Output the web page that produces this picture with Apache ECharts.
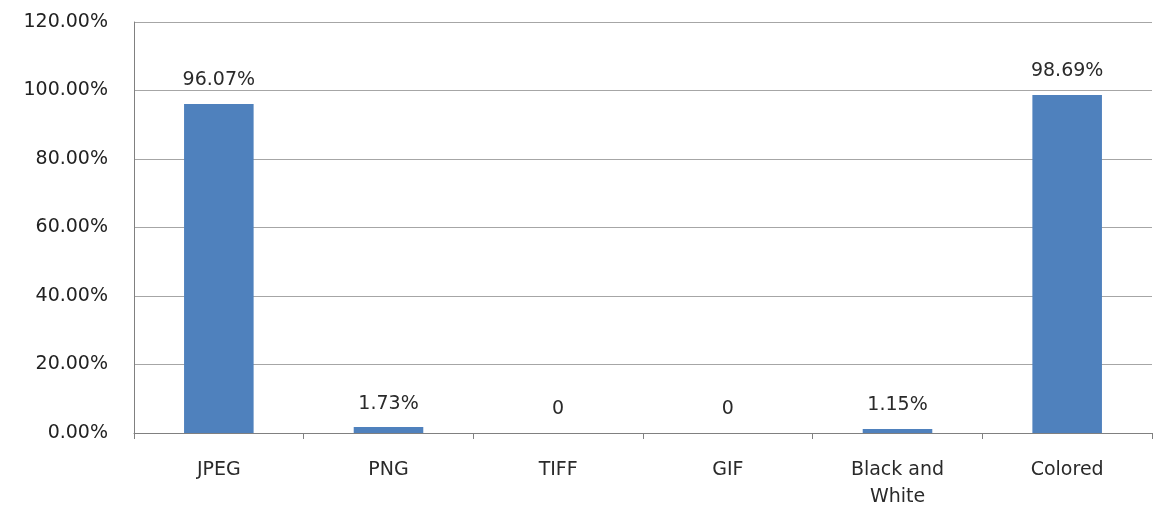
<!DOCTYPE html>
<html>
<head>
<meta charset="utf-8">
<script src="https://cdn.jsdelivr.net/npm/echarts@6/dist/echarts.min.js"></script>
<style>
  html, body { margin: 0; padding: 0; background: #fff; }
  #main { width: 1161px; height: 505px; }
</style>
</head>
<body>
<div id="main"></div>
<script>
// percentages
const categories = ['JPEG', 'PNG', 'TIFF', 'GIF', 'Black and\nWhite', 'Colored'];
const shares = [96.07, 1.73, 0, 0, 1.15, 98.69];

const chart = echarts.init(document.getElementById('main'));

const option = {
    animation: false,
    grid: {
        left: 134,
        right: 9,
        top: 22,
        bottom: 72,
        outerBoundsMode: 'none'
    },
    xAxis: {
        type: 'category',
        data: categories,
        axisLine: { lineStyle: { color: '#808080', width: 1 } },
        axisTick: { show: true, length: 6, lineStyle: { color: '#808080' } },
        axisLabel: {
            color: '#2a2a2a',
            fontSize: 19,
            fontFamily: 'DejaVu Sans',
            margin: 24,
            lineHeight: 27
        }
    },
    yAxis: {
        type: 'value',
        min: 0,
        max: 120,
        interval: 20,
        axisLine: { show: true, lineStyle: { color: '#808080' } },
        axisTick: { show: false },
        splitLine: { lineStyle: { color: '#a6a6a6', width: 1 } },
        axisLabel: {
            color: '#222',
            fontSize: 19,
            fontFamily: 'DejaVu Sans',
            margin: 26,
            formatter: v => v.toFixed(2) + '%'
        }
    },
    series: [{
        type: 'bar',
        data: shares,
        barWidth: '41%',
        itemStyle: { color: '#4F81BD' },
        label: {
            show: true,
            position: 'top',
            distance: 14,
            color: '#2a2a2a',
            fontSize: 19,
            fontFamily: 'DejaVu Sans',
            formatter: p => p.value === 0 ? '0' : p.value.toFixed(2) + '%'
        }
    }]
};

chart.setOption(option);
</script>
</body>
</html>
